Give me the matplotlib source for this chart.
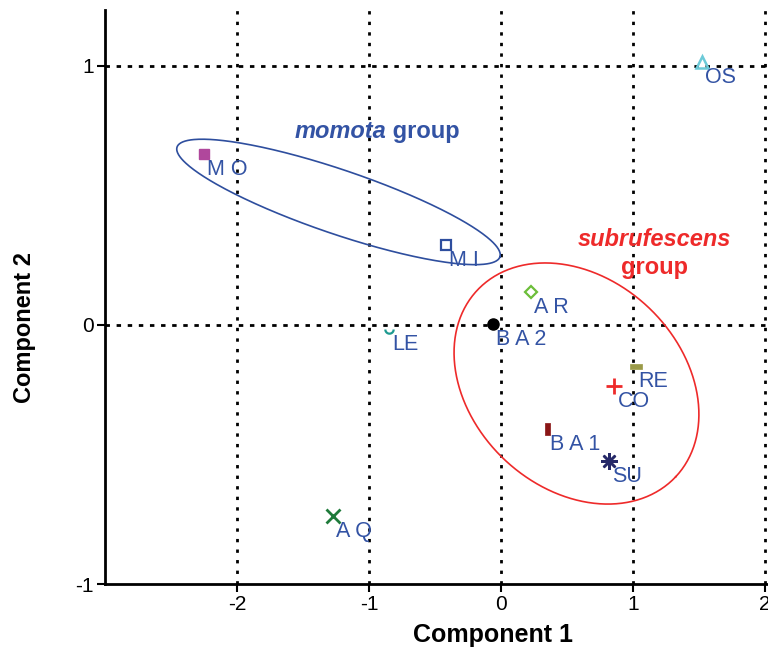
import numpy as np
import matplotlib
matplotlib.use("Agg")
import matplotlib.pyplot as plt
from matplotlib.path import Path

plt.rcParams['font.family'] = ['Liberation Sans', 'DejaVu Sans']

# Population scores on the first two components
labels = ["M O", "M I", "LE", "B A 2", "A R", "RE", "CO", "B A 1", "SU", "A Q", "OS"]
comp1 = [-2.25, -0.42, -0.85, -0.06, 0.23, 1.02, 0.86, 0.35, 0.82, -1.27, 1.52]
comp2 = [0.66, 0.31, -0.015, 0.004, 0.127, -0.158, -0.236, -0.40, -0.525, -0.737, 1.015]

# Group ellipses: centre, major and minor conjugate semi-axis vectors (data units)
momota_centre = (-1.231, 0.475)
momota_major = (1.223, -0.212)
momota_minor = (0.078, 0.117)
subruf_centre = (0.572, -0.226)
subruf_major = (0.752, -0.360)
subruf_minor = (0.543, 0.295)

label_blue = "#3353A4"

hrect = Path([(-1, -0.45), (1, -0.45), (1, 0.45), (-1, 0.45), (-1, -0.45)],
             [Path.MOVETO, Path.LINETO, Path.LINETO, Path.LINETO, Path.CLOSEPOLY])
vrect = Path([(-0.45, -1), (0.45, -1), (0.45, 1), (-0.45, 1), (-0.45, -1)],
             [Path.MOVETO, Path.LINETO, Path.LINETO, Path.LINETO, Path.CLOSEPOLY])
halfring = Path(np.column_stack([np.cos(np.linspace(np.pi, 2 * np.pi, 20)),
                                 np.sin(np.linspace(np.pi, 2 * np.pi, 20))]))

styles = [
    dict(marker='s', ms=7, mfc="#B0479C", mec="#B0479C", mew=1),
    dict(marker='s', ms=6.5, mfc='none', mec="#2E4E9E", mew=1.6),
    dict(marker=halfring, ms=6, mfc='none', mec="#1E9A90", mew=1.6),
    dict(marker='o', ms=8, mfc='black', mec='black', mew=1),
    dict(marker='D', ms=6, mfc='none', mec="#6CBE3A", mew=1.6),
    dict(marker=hrect, ms=8, mfc="#9A9A48", mec="#9A9A48", mew=0.5),
    dict(marker='+', ms=11, mfc="#EE2A2A", mec="#EE2A2A", mew=2),
    dict(marker=vrect, ms=8, mfc="#8A1616", mec="#8A1616", mew=0.5),
    dict(marker=(8, 2, 0), ms=12, mfc="#262968", mec="#262968", mew=1.8),
    dict(marker='x', ms=10, mfc="#1E7A3A", mec="#1E7A3A", mew=2),
    dict(marker='^', ms=9, mfc='none', mec="#6CCAD8", mew=1.8),
]

fig = plt.figure(figsize=(7.68, 6.52), dpi=100)
ax = fig.add_axes([105 / 768, 68 / 652, 663 / 768, 574 / 652])
ax.set_xlim(-3, 2.023)
ax.set_ylim(-1, 1.216)

# Dotted reference lines
for xv in [-2, -1, 0, 1, 2]:
    ax.axvline(xv, color='black', lw=2.0, ls=(0, (1.2, 2.6)), zorder=1)
for yv in [0, 1]:
    ax.axhline(yv, color='black', lw=2.0, ls=(0, (1.6, 2.4)), zorder=1)

# Group ellipses
t = np.linspace(0, 2 * np.pi, 400)
for c, u, v, col in [(momota_centre, momota_major, momota_minor, "#2E4E9E"),
                     (subruf_centre, subruf_major, subruf_minor, "#EE2A2A")]:
    ex = c[0] + u[0] * np.cos(t) + v[0] * np.sin(t)
    ey = c[1] + u[1] * np.cos(t) + v[1] * np.sin(t)
    ax.plot(ex, ey, color=col, lw=1.2, zorder=2)

for lab, x, y, st in zip(labels, comp1, comp2, styles):
    ax.plot([x], [y], ls='none', zorder=4, **st)
    ax.annotate(lab, (x, y), xytext=(3, -5), textcoords='offset pixels',
                ha='left', va='top', fontsize=15.5, color=label_blue, zorder=5)

# Group names
ax.text(-0.87, 0.748, "momota", ha='right', va='center', fontsize=17,
        fontweight='bold', fontstyle='italic', color=label_blue)
ax.text(-0.87, 0.748, " group", ha='left', va='center', fontsize=17,
        fontweight='bold', color=label_blue)
ax.text(1.16, 0.33, "subrufescens", ha='center', va='center', fontsize=17,
        fontweight='bold', fontstyle='italic', color="#EE2A2A")
ax.text(1.16, 0.22, "group", ha='center', va='center', fontsize=17,
        fontweight='bold', color="#EE2A2A")

for s in ['top', 'right']:
    ax.spines[s].set_visible(False)
for s in ['left', 'bottom']:
    ax.spines[s].set_linewidth(2)
ax.set_xticks([-2, -1, 0, 1, 2])
ax.set_yticks([-1, 0, 1])
ax.set_xticklabels(["-2", "-1", "0", "1", "2"])
ax.set_yticklabels(["-1", "0", "1"])
ax.tick_params(direction='out', length=6, width=1.5, labelsize=15, pad=2)
ax.set_xlabel("Component 1", fontsize=18, fontweight='bold')
ax.set_ylabel("Component 2", fontsize=17, fontweight='bold')
ax.xaxis.set_label_coords(0.585, -0.068)
ax.yaxis.set_label_coords(-0.104, 0.446)

fig.savefig("out.png", dpi=100)
